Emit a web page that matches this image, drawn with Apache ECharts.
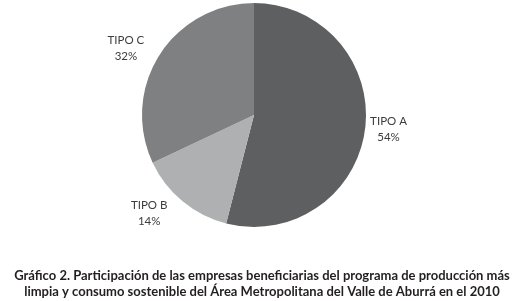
<!DOCTYPE html>
<html>
<head>
<meta charset="utf-8">
<script src="https://cdn.jsdelivr.net/npm/echarts@6/dist/echarts.min.js"></script>
<style>
  html, body { margin: 0; padding: 0; background: #fff; }
  #chart { width: 524px; height: 301px; }
</style>
</head>
<body>
<div id="chart"></div>
<script>
  // data
  const categories = ['TIPO A', 'TIPO B', 'TIPO C'];
  const shares = [54, 14, 32];
  const sliceColors = ['#5e5f61', '#afb0b2', '#7f8082'];
  const labelGaps = [0, 16, 12];
  const titleLines = [
    'Gráfico 2. Participación de las empresas beneficiarias del programa de producción más',
    'limpia y consumo sostenible del Área Metropolitana del Valle de Aburrá en el 2010'
  ];

  const chart = echarts.init(document.getElementById('chart'));

  chart.setOption({
    animation: false,
    title: {
      text: titleLines.join('\n'),
      left: 'center',
      top: 263,
      textStyle: {
        fontFamily: 'Lato',
        fontWeight: 'bold',
        fontSize: 13,
        lineHeight: 16,
        color: '#231f20'
      }
    },
    series: [{
      type: 'pie',
      center: [254, 115],
      radius: 112,
      startAngle: 90,
      clockwise: true,
      silent: true,
      data: categories.map((name, i) => ({
        name,
        value: shares[i],
        itemStyle: { color: sliceColors[i] },
        labelLine: { show: false, length: labelGaps[i], length2: 0 }
      })),
      label: {
        position: 'outside',
        formatter: (p) => p.name + '\n' + p.value + '%',
        fontFamily: 'Lato',
        fontSize: 11.5,
        lineHeight: 16,
        color: '#3c3c3c'
      },
      labelLayout: (p) => ({
        x: p.labelRect.x + p.labelRect.width / 2,
        y: p.labelRect.y + p.labelRect.height / 2,
        align: 'center',
        verticalAlign: 'middle'
      })
    }]
  });
</script>
</body>
</html>
